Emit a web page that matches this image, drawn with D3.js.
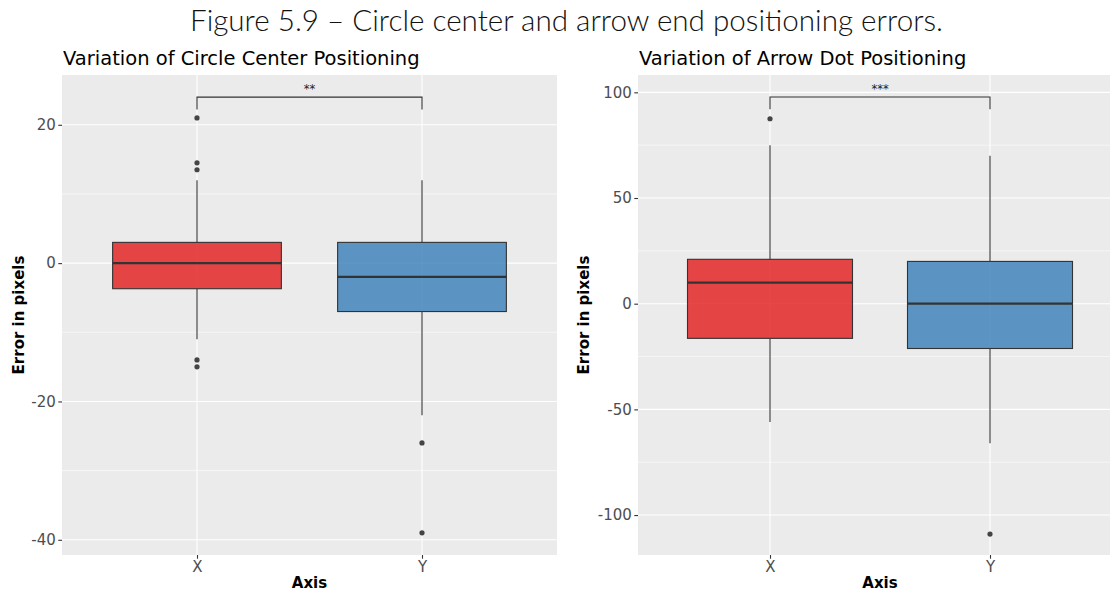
<!DOCTYPE html>
<html>
<head>
<meta charset="utf-8">
<script src="https://cdn.jsdelivr.net/npm/d3@7"></script>
<style>
  html, body { margin: 0; padding: 0; background: #fff; overflow: hidden; }
  svg { display: block; }
</style>
</head>
<body>
<svg id="fig" width="1110" height="592"></svg>
<script>
// Categories on the horizontal axis
const categories = ['X', 'Y'];
const fillColors = ['#E41A1C', '#377EB8'];

// Circle center positioning error (pixels): box-plot summary per axis
const circleQ1 = [-3.7, -7];
const circleMedian = [0, -2];
const circleQ3 = [3, 3];
const circleLow = [-11, -22];
const circleHigh = [12, 12];
const circleOutliers = [[21, 14.5, 13.5, -14, -15], [-26, -39]];
const circleTicks = [-40, -20, 0, 20];
const circleMinor = [-30, -10, 10];
const circleBracket = [24, 22.2];
const circleSig = '**';

// Arrow dot positioning error (pixels)
const arrowQ1 = [-16.4, -21.2];
const arrowMedian = [10, 0];
const arrowQ3 = [21, 20];
const arrowLow = [-56, -66];
const arrowHigh = [75, 70];
const arrowOutliers = [[87.5], [-109]];
const arrowTicks = [-100, -50, 0, 50, 100];
const arrowMinor = [-75, -25, 25, 75];
const arrowBracket = [97.8, 92];
const arrowSig = '***';

const svg = d3.select('#fig');
const FONT = 'DejaVu Sans, sans-serif';

// Overall figure caption
const cap = svg.append('text')
  .attr('x', 566.5).attr('y', 31)
  .attr('text-anchor', 'middle')
  .attr('font-family', 'Lato, "Open Sans", sans-serif')
  .attr('font-weight', 300)
  .attr('font-size', 28)
  .attr('fill', '#111')
  .text('Figure 5.9 – Circle center and arrow end positioning errors.');
{
  const w = cap.node().getComputedTextLength();
  cap.attr('font-size', 28 * 753 / w);
}

function drawPanel(p) {
  const g = svg.append('g');
  const y = d3.scaleLinear().domain(p.yDomain).range([p.y1, p.y0]);
  const x = d3.scalePoint().domain(categories).range([p.x0, p.x1]).padding(0.6);
  const step = x.step();
  const boxW = step * 0.75;

  // panel background
  g.append('rect')
    .attr('x', p.x0).attr('y', p.y0)
    .attr('width', p.x1 - p.x0).attr('height', p.y1 - p.y0)
    .attr('fill', '#EBEBEB');

  // minor grid
  g.selectAll('.minor').data(p.minor).join('line')
    .attr('x1', p.x0).attr('x2', p.x1)
    .attr('y1', d => y(d)).attr('y2', d => y(d))
    .attr('stroke', '#fff').attr('stroke-width', 0.55);
  // major grid
  g.selectAll('.majorH').data(p.ticks).join('line')
    .attr('x1', p.x0).attr('x2', p.x1)
    .attr('y1', d => y(d)).attr('y2', d => y(d))
    .attr('stroke', '#fff').attr('stroke-width', 1.1);
  g.selectAll('.majorV').data(categories).join('line')
    .attr('x1', d => x(d)).attr('x2', d => x(d))
    .attr('y1', p.y0).attr('y2', p.y1)
    .attr('stroke', '#fff').attr('stroke-width', 1.1);

  // boxes
  categories.forEach((c, i) => {
    const cx = x(c);
    const bg = g.append('g');
    bg.append('line')
      .attr('x1', cx).attr('x2', cx)
      .attr('y1', y(p.q3[i])).attr('y2', y(p.high[i]))
      .attr('stroke', '#333').attr('stroke-width', 1.1);
    bg.append('line')
      .attr('x1', cx).attr('x2', cx)
      .attr('y1', y(p.q1[i])).attr('y2', y(p.low[i]))
      .attr('stroke', '#333').attr('stroke-width', 1.1);
    bg.append('rect')
      .attr('x', cx - boxW / 2).attr('width', boxW)
      .attr('y', y(p.q3[i])).attr('height', y(p.q1[i]) - y(p.q3[i]))
      .attr('fill', fillColors[i]).attr('fill-opacity', 0.8)
      .attr('stroke', '#333').attr('stroke-width', 1.1);
    bg.append('line')
      .attr('x1', cx - boxW / 2).attr('x2', cx + boxW / 2)
      .attr('y1', y(p.median[i])).attr('y2', y(p.median[i]))
      .attr('stroke', '#333').attr('stroke-width', 2.2);
    bg.selectAll('circle').data(p.outliers[i]).join('circle')
      .attr('cx', cx).attr('cy', d => y(d)).attr('r', 2.6)
      .attr('fill', '#444');
  });

  // significance bracket
  const xa = x(categories[0]), xb = x(categories[1]);
  g.append('path')
    .attr('d', d3.line()([[xa, y(p.bracket[1])], [xa, y(p.bracket[0])], [xb, y(p.bracket[0])], [xb, y(p.bracket[1])]]))
    .attr('fill', 'none').attr('stroke', '#333').attr('stroke-width', 1.1);
  g.append('text')
    .attr('x', (xa + xb) / 2).attr('y', y(p.bracket[0]) - 4)
    .attr('text-anchor', 'middle')
    .attr('font-family', FONT).attr('font-size', 11.5).attr('fill', '#222')
    .text(p.sig);

  // axes
  const ya = g.append('g').attr('transform', `translate(${p.x0},0)`)
    .call(d3.axisLeft(y).tickValues(p.ticks).tickSize(3.7).tickPadding(2.5).tickFormat(d3.format('d')));
  const xa2 = g.append('g').attr('transform', `translate(0,${p.y1})`)
    .call(d3.axisBottom(x).tickSize(3.7).tickPadding(2.5));
  [ya, xa2].forEach(a => {
    a.select('.domain').remove();
    a.selectAll('.tick line').attr('stroke', '#333').attr('stroke-width', 1.1);
    a.selectAll('.tick text').attr('fill', '#4D4D4D')
      .attr('font-family', FONT).attr('font-size', 15);
  });
  ya.selectAll('.tick text').text(d => String(d).replace('−', '-'));

  // titles
  g.append('text')
    .attr('x', p.x0 + 1).attr('y', 65)
    .attr('font-family', FONT).attr('font-size', 19.5).attr('fill', '#000')
    .text(p.title);
  g.append('text')
    .attr('x', (p.x0 + p.x1) / 2).attr('y', 588)
    .attr('text-anchor', 'middle')
    .attr('font-family', FONT).attr('font-weight', 'bold').attr('font-size', 15)
    .text('Axis');
  g.append('text')
    .attr('transform', `translate(${p.yTitleX},${(p.y0 + p.y1) / 2}) rotate(-90)`)
    .attr('text-anchor', 'middle')
    .attr('font-family', FONT).attr('font-weight', 'bold').attr('font-size', 15)
    .text('Error in pixels');
}

drawPanel({
  x0: 62, x1: 557, y0: 75, y1: 555, yDomain: [-42.2, 27.2], yTitleX: 24,
  q1: circleQ1, median: circleMedian, q3: circleQ3, low: circleLow, high: circleHigh,
  outliers: circleOutliers, ticks: circleTicks, minor: circleMinor,
  bracket: circleBracket, sig: circleSig,
  title: 'Variation of Circle Center Positioning'
});
drawPanel({
  x0: 638, x1: 1122, y0: 75, y1: 555, yDomain: [-118.9, 108.2], yTitleX: 589,
  q1: arrowQ1, median: arrowMedian, q3: arrowQ3, low: arrowLow, high: arrowHigh,
  outliers: arrowOutliers, ticks: arrowTicks, minor: arrowMinor,
  bracket: arrowBracket, sig: arrowSig,
  title: 'Variation of Arrow Dot Positioning'
});
</script>
</body>
</html>
